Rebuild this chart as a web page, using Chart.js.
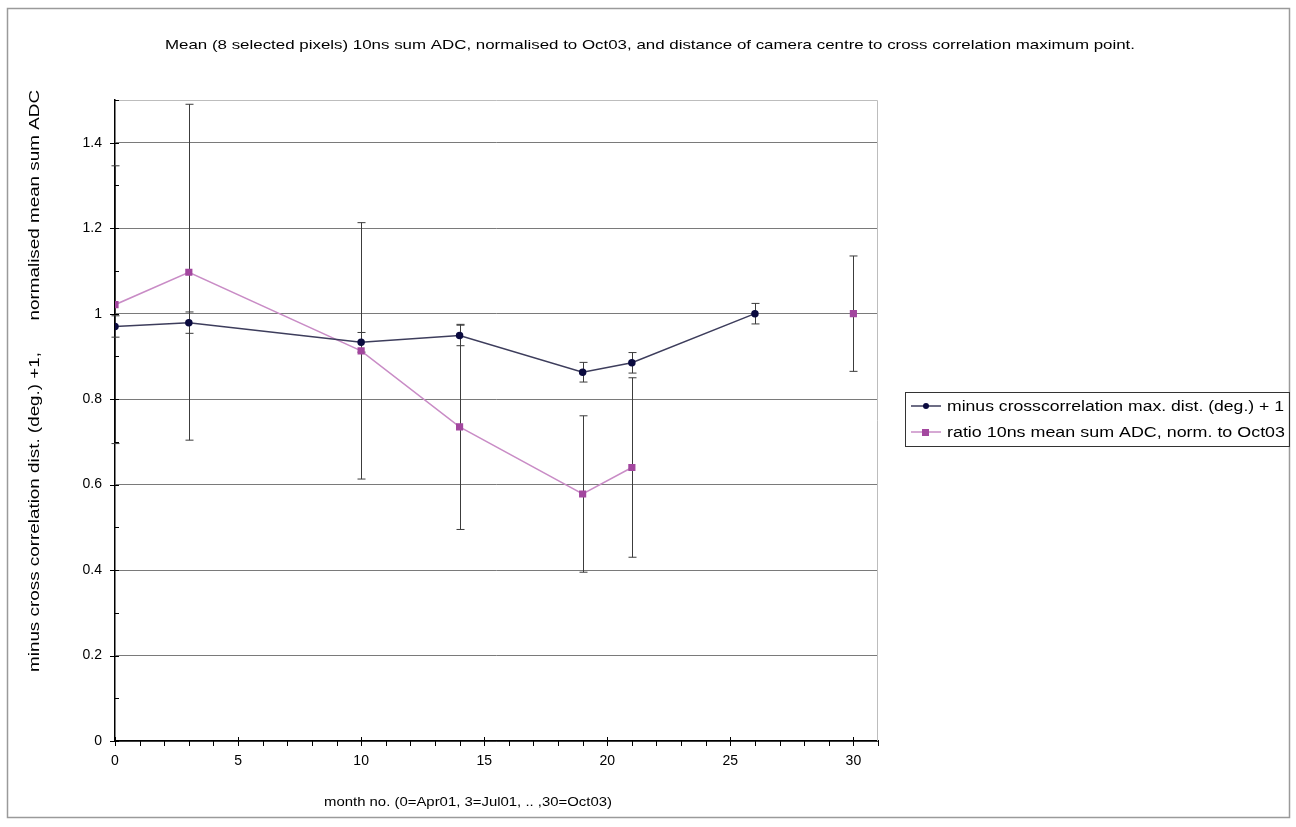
<!DOCTYPE html>
<html>
<head>
<meta charset="utf-8">
<script src="https://cdn.jsdelivr.net/npm/chart.js@4"></script>
<style>
  body { margin: 0; background: #fff; }
  #chart { display: block; }
</style>
</head>
<body>
<canvas id="chart" width="1296" height="827"></canvas>
<script>
// values
const titleText = 'Mean (8 selected pixels) 10ns sum ADC, normalised to Oct03, and distance of camera centre to cross correlation maximum point.';
const xTitle = 'month no. (0=Apr01, 3=Jul01, .. ,30=Oct03)';
const yTitle = 'minus cross correlation dist. (deg.) +1,      normalised mean sum ADC';

const crossMonths = [0, 3, 10, 14, 19, 21, 26];
const crossValues = [0.970, 0.979, 0.933, 0.949, 0.863, 0.885, 1.0];
const crossErrors = [0.025, 0.025, 0.023, 0.024, 0.023, 0.024, 0.024];

// no ADC value at month 26, so the line breaks before Oct03
const adcMonths = [0, 3, 10, 14, 19, 21, 26, 30];
const adcValues = [1.021, 1.097, 0.913, 0.735, 0.578, 0.640, null, 1.0];
const adcErrors = [0.325, 0.393, 0.300, 0.240, 0.183, 0.210, null, 0.135];

const yTicks = [0, 0.2, 0.4, 0.6, 0.8, 1, 1.2, 1.4];
const xTicks = [0, 5, 10, 15, 20, 25, 30];

const FONT = '"Liberation Sans", Arial, sans-serif';

const toPoints = (xs, ys) => xs.map((x, i) => ({ x: x, y: ys[i] }));

// draw text squeezed / stretched to a given width (the source picture is stretched sideways)
function fitText(ctx, text, x, y, width, align) {
  const w = ctx.measureText(text).width;
  ctx.save();
  ctx.translate(x, y);
  ctx.scale(width / w, 1);
  ctx.textAlign = align || 'center';
  ctx.fillText(text, 0, 0);
  ctx.restore();
}

const errorBars = {
  id: 'errorBars',
  beforeDatasetsDraw(chart) {
    const ctx = chart.ctx;
    const xs = chart.scales.x, ys = chart.scales.y;
    ctx.save();
    ctx.strokeStyle = '#3c3c3c';
    ctx.lineWidth = 1;
    chart.data.datasets.forEach(ds => {
      ds.data.forEach((p, i) => {
        const e = ds.errors[i];
        if (p.y === null || e === null) return;
        const px = Math.round(xs.getPixelForValue(p.x)) + 0.5;
        const top = ys.getPixelForValue(p.y + e);
        const bot = ys.getPixelForValue(p.y - e);
        ctx.beginPath();
        ctx.moveTo(px, top); ctx.lineTo(px, bot);
        ctx.moveTo(px - 4, top); ctx.lineTo(px + 4, top);
        ctx.moveTo(px - 4, bot); ctx.lineTo(px + 4, bot);
        ctx.stroke();
      });
    });
    ctx.restore();
  }
};

const decorations = {
  id: 'decorations',
  beforeDatasetsDraw(chart) {
    const ctx = chart.ctx;
    const a = chart.chartArea;
    const xs = chart.scales.x, ys = chart.scales.y;
    ctx.save();
    // plot area frame (top / right)
    ctx.strokeStyle = '#bdbdbd';
    ctx.lineWidth = 1;
    ctx.beginPath();
    ctx.moveTo(a.left, a.top + 0.5); ctx.lineTo(a.right - 0.5, a.top + 0.5);
    ctx.lineTo(a.right - 0.5, a.bottom);
    ctx.stroke();
    // tick marks
    ctx.strokeStyle = '#000';
    ctx.beginPath();
    for (let v = 0; v <= 1.5001; v += 0.1) {
      const py = Math.round(ys.getPixelForValue(v)) + 0.5;
      const major = Math.abs(v * 5 - Math.round(v * 5)) < 1e-6;
      ctx.moveTo(a.left - (major ? 5 : 0), py);
      ctx.lineTo(a.left + 4, py);
    }
    for (let m = 0; m <= 31; m++) {
      const px = Math.round(xs.getPixelForValue(m)) + 0.5;
      const major = m % 5 === 0;
      ctx.moveTo(px, a.bottom - (major ? 4 : 0));
      ctx.lineTo(px, a.bottom + 5);
    }
    ctx.stroke();
    ctx.restore();
  },
  afterDraw(chart) {
    const ctx = chart.ctx;
    ctx.save();
    // outer frame
    ctx.strokeStyle = '#9a9a9a';
    ctx.lineWidth = 1.5;
    ctx.strokeRect(7.5, 8.5, 1282, 809);
    ctx.fillStyle = '#000';
    ctx.textBaseline = 'middle';
    ctx.font = '13px ' + FONT;
    fitText(ctx, titleText, 650, 45, 970);
    ctx.font = '13px ' + FONT;
    fitText(ctx, xTitle, 468, 802, 288);
    ctx.save();
    ctx.translate(35, 381);
    ctx.rotate(-Math.PI / 2);
    ctx.font = '14px ' + FONT;
    fitText(ctx, yTitle, 0, 0, 582);
    ctx.restore();

    // legend
    ctx.strokeStyle = '#333';
    ctx.lineWidth = 1;
    ctx.strokeRect(905.5, 392.5, 384, 54);
    ctx.font = '14px ' + FONT;
    chart.data.datasets.forEach((ds, i) => {
      const y = 406 + i * 26;
      ctx.strokeStyle = ds.borderColor;
      ctx.lineWidth = 1.5;
      ctx.beginPath();
      ctx.moveTo(911, y); ctx.lineTo(941, y);
      ctx.stroke();
      ctx.fillStyle = ds.pointBackgroundColor;
      if (ds.pointStyle === 'rect') {
        ctx.fillRect(922, y - 3, 7, 7);
      } else {
        ctx.beginPath();
        ctx.arc(926, y, 3, 0, Math.PI * 2);
        ctx.fill();
      }
      ctx.fillStyle = '#000';
      fitText(ctx, ds.label, 947, y + 1, i === 0 ? 337 : 338, 'left');
    });
    ctx.restore();
  }
};

new Chart(document.getElementById('chart'), {
  type: 'line',
  data: {
    datasets: [{
      label: 'minus crosscorrelation max. dist. (deg.) + 1',
      data: toPoints(crossMonths, crossValues),
      errors: crossErrors,
      borderColor: '#3d3d5c',
      borderWidth: 1.5,
      pointStyle: 'circle',
      pointRadius: 3,
      pointBackgroundColor: '#0b0b40',
      pointBorderColor: '#0b0b40',
      tension: 0
    }, {
      label: 'ratio 10ns mean sum ADC, norm. to Oct03',
      data: toPoints(adcMonths, adcValues),
      errors: adcErrors,
      borderColor: '#c98cc6',
      borderWidth: 1.5,
      pointStyle: 'rect',
      pointRadius: 4,
      pointBackgroundColor: '#a3479f',
      pointBorderColor: '#a3479f',
      spanGaps: false,
      tension: 0
    }]
  },
  options: {
    responsive: false,
    animation: false,
    layout: { padding: { left: 0, right: 418, top: 100, bottom: 0 } },
    plugins: { legend: { display: false }, title: { display: false }, tooltip: { enabled: false } },
    scales: {
      x: {
        type: 'linear',
        min: 0,
        max: 31,
        afterFit: s => { s.height = 86; },
        afterBuildTicks: s => { s.ticks = xTicks.map(v => ({ value: v })); },
        ticks: { color: '#000', font: { family: FONT, size: 14 }, padding: 4, maxRotation: 0 },
        grid: { display: false },
        border: { color: '#000', width: 1.5 }
      },
      y: {
        min: 0,
        max: 1.5,
        afterFit: s => { s.width = 115; },
        afterBuildTicks: s => { s.ticks = yTicks.map(v => ({ value: v })); },
        ticks: { color: '#000', font: { family: FONT, size: 14 }, padding: 13, callback: v => String(+v.toFixed(1)) },
        grid: { color: '#7a7a7a', lineWidth: 1, drawTicks: false },
        border: { color: '#000', width: 1.5 }
      }
    }
  },
  plugins: [errorBars, decorations]
});
</script>
</body>
</html>
